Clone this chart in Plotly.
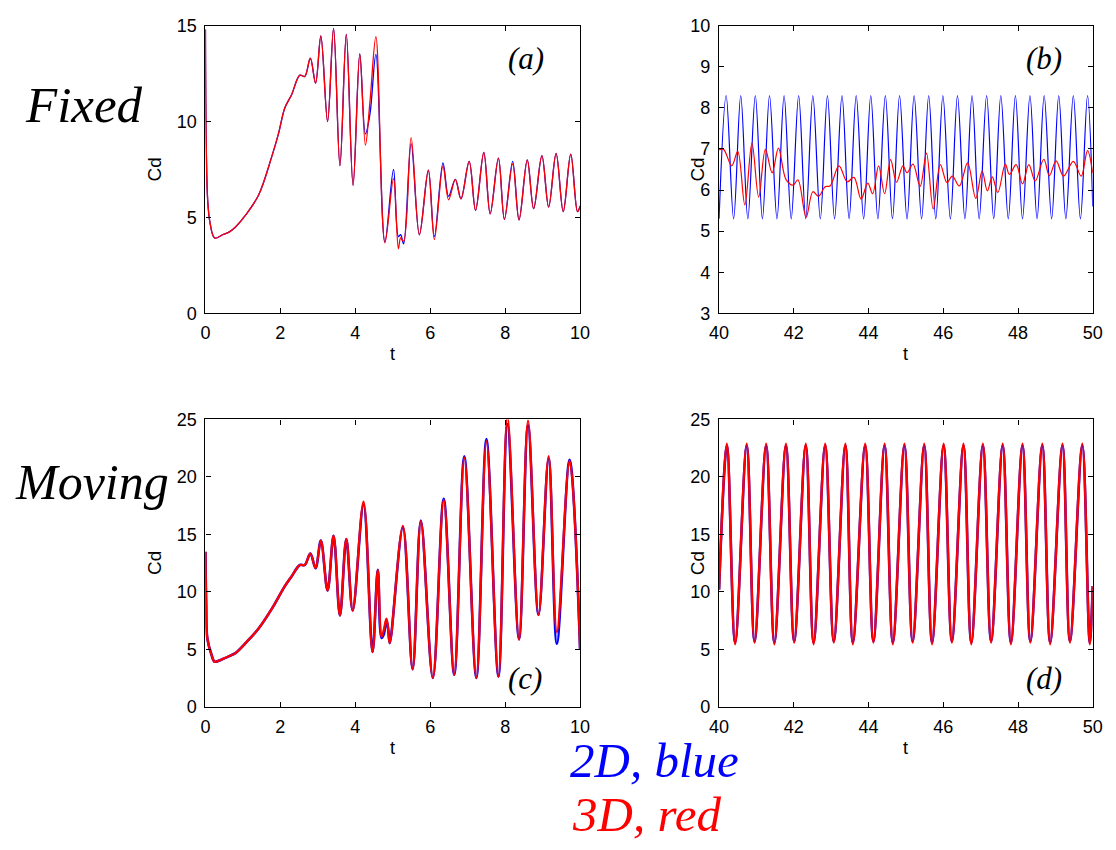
import plotly.graph_objects as go

W, H = 1116, 850

# ---------------- data ----------------
# (a) Fixed, t in [0,10]
t_a = [0, 0.02, 0.06, 0.12, 0.245, 0.46, 0.64, 0.81, 1.07, 1.42, 1.77, 1.95, 2.12, 2.30,
       2.52, 2.65, 2.80, 2.94, 3.08, 3.26, 3.42, 3.59, 3.76, 3.94, 4.12, 4.27, 4.39, 4.55,
       4.79, 5.02, 5.15, 5.21, 5.29, 5.49, 5.71, 5.95, 6.11, 6.34, 6.49, 6.67, 6.82, 7.04,
       7.21, 7.43, 7.60, 7.82, 7.98, 8.20, 8.37, 8.59, 8.76, 8.98, 9.16, 9.36, 9.55, 9.75,
       9.93, 10.0]
cd_a_3d = [14.8, 9.0, 5.9, 4.75, 3.93, 4.1, 4.25, 4.52, 5.12, 6.17, 8.17, 9.37, 10.72, 11.4,
           12.42, 12.35, 13.3, 12.0, 14.46, 10.0, 14.85, 7.7, 14.54, 6.68, 13.52, 8.77, 11.0, 14.42,
           3.68, 7.02, 3.37, 3.93, 3.76, 9.16, 4.1, 7.46, 3.85, 7.67, 5.92, 6.99, 5.97, 7.92,
           5.37, 8.39, 5.19, 8.09, 4.9, 7.8, 4.87, 8.0, 5.46, 8.22, 5.54, 8.34, 5.3, 8.3,
           5.3, 5.6]
cd_a_2d = [14.8, 9.0, 5.9, 4.75, 3.93, 4.1, 4.25, 4.52, 5.12, 6.17, 8.17, 9.37, 10.72, 11.4,
           12.42, 12.35, 13.3, 12.0, 14.46, 10.0, 14.85, 7.7, 14.54, 6.68, 13.52, 9.36, 10.38, 13.5,
           3.73, 7.5, 4.0, 4.1, 3.62, 8.85, 4.1, 7.46, 4.0, 7.84, 6.1, 6.99, 5.97, 7.92,
           5.37, 8.39, 5.19, 8.09, 4.9, 7.92, 4.87, 8.0, 5.46, 8.22, 5.54, 8.34, 5.3, 8.3,
           5.3, 5.6]

# (b) Fixed, t in [40,50]
t_b_2d = [40.00, 40.19, 40.39, 40.58, 40.77, 40.97, 41.16, 41.35, 41.55, 41.74, 41.93, 42.13,
          42.32, 42.51, 42.71, 42.90, 43.09, 43.29, 43.48, 43.67, 43.87, 44.06, 44.25, 44.45,
          44.64, 44.83, 45.03, 45.22, 45.42, 45.61, 45.80, 45.99, 46.19, 46.38, 46.58, 46.77,
          46.96, 47.16, 47.35, 47.54, 47.74, 47.93, 48.12, 48.32, 48.51, 48.70, 48.90, 49.09,
          49.28, 49.48, 49.67, 49.86, 50.00]
cd_b_2d = [5.3, 8.3, 5.3, 8.3, 5.3, 8.3, 5.3, 8.3, 5.3, 8.3, 5.3, 8.3,
           5.3, 8.3, 5.3, 8.3, 5.3, 8.3, 5.3, 8.3, 5.3, 8.3, 5.3, 8.3,
           5.3, 8.3, 5.3, 8.3, 5.3, 8.3, 5.3, 8.3, 5.3, 8.3, 5.3, 8.3,
           5.3, 8.3, 5.3, 8.3, 5.3, 8.3, 5.3, 8.3, 5.3, 8.3, 5.3, 8.3,
           5.3, 8.3, 5.3, 8.3, 5.6]
t_b_3d = [40.00, 40.12, 40.34, 40.50, 40.69, 40.88, 41.06, 41.24, 41.42, 41.59, 41.79, 41.98,
          42.11, 42.33, 42.51, 42.66, 42.84, 42.97, 43.21, 43.43, 43.61, 43.80, 43.98, 44.11,
          44.27, 44.43, 44.59, 44.75, 44.92, 45.03, 45.19, 45.38, 45.55, 45.73, 45.92, 46.10,
          46.24, 46.43, 46.65, 46.87, 47.04, 47.18, 47.31, 47.46, 47.66, 47.77, 47.95, 48.12,
          48.29, 48.46, 48.69, 48.84, 49.02, 49.22, 49.48, 49.69, 49.86, 50.00]
cd_b_3d = [6.98, 6.99, 6.59, 6.94, 5.64, 7.14, 5.83, 6.99, 6.42, 7.02, 6.26, 6.12,
           6.25, 5.34, 5.96, 5.85, 6.08, 6.10, 6.59, 6.20, 6.31, 5.78, 6.17, 5.91,
           6.59, 5.91, 6.74, 6.19, 6.59, 6.42, 6.63, 6.09, 6.90, 5.54, 6.62, 6.18,
           6.34, 6.10, 6.66, 5.80, 6.46, 5.98, 6.32, 5.94, 6.63, 6.38, 6.62, 6.15,
           6.62, 6.22, 6.75, 6.35, 6.71, 6.34, 6.70, 6.34, 6.96, 6.42]

# (c) Moving, t in [0,10]
t_c = [0, 0.02, 0.05, 0.16, 0.245, 0.45, 0.64, 0.81, 1.07, 1.42, 1.77, 2.12, 2.30, 2.52,
       2.65, 2.80, 2.94, 3.08, 3.26, 3.42, 3.59, 3.76, 3.93, 4.22, 4.46, 4.60, 4.70, 4.76,
       4.83, 4.87, 4.92, 5.27, 5.53, 5.75, 6.07, 6.36, 6.64, 6.91, 7.23, 7.50, 7.82, 8.06,
       8.37, 8.61, 8.89, 9.16, 9.38, 9.72, 10.0]
cd_c_3d = [13.5, 9.0, 5.97, 4.56, 3.93, 4.15, 4.42, 4.7, 5.55, 6.82, 8.52, 10.5, 11.35, 12.34,
           12.34, 13.33, 12.06, 14.46, 10.13, 14.89, 7.95, 14.6, 8.38, 17.86, 4.78, 11.92, 6.11, 6.68,
           7.67, 6.96, 5.55, 15.74, 3.28, 16.16, 2.52, 18.0, 2.8, 21.68, 2.52, 23.1, 2.63, 25.3,
           5.83, 24.9, 8.0, 21.8, 6.5, 21.4, 5.0]
cd_c_2d = [13.5, 9.0, 5.97, 4.56, 3.93, 4.15, 4.42, 4.7, 5.55, 6.82, 8.52, 10.5, 11.35, 12.34,
           12.34, 13.33, 12.06, 14.46, 10.13, 14.89, 7.95, 14.6, 8.38, 17.6, 4.78, 11.92, 6.0, 6.3,
           7.5, 6.96, 5.55, 15.6, 3.28, 16.2, 2.52, 18.1, 2.8, 21.8, 2.52, 23.3, 2.63, 24.6,
           5.9, 24.5, 8.0, 21.6, 5.5, 21.5, 5.0]

# (d) Moving, t in [40,50]
t_d = [40.00, 40.21, 40.43, 40.74, 40.95, 41.26, 41.48, 41.79, 42.01, 42.32, 42.53, 42.84,
       43.07, 43.38, 43.58, 43.91, 44.13, 44.43, 44.65, 44.96, 45.18, 45.49, 45.70, 46.01,
       46.23, 46.54, 46.75, 47.06, 47.28, 47.59, 47.81, 48.12, 48.33, 48.65, 48.86, 49.19,
       49.39, 49.72, 49.92, 50.00]
cd_d_3d = [10.2, 22.9, 5.45, 22.9, 5.6, 22.9, 5.45, 22.9, 5.6, 22.9, 5.45, 22.9,
           5.6, 22.9, 5.45, 22.9, 5.6, 22.9, 5.45, 22.9, 5.6, 22.9, 5.45, 22.9,
           5.6, 22.9, 5.45, 22.9, 5.6, 22.9, 5.45, 22.9, 5.6, 22.9, 5.45, 22.9,
           5.6, 22.9, 5.45, 10.5]
cd_d_2d = [10.2, 22.7, 5.6, 22.7, 5.7, 22.7, 5.6, 22.7, 5.7, 22.7, 5.6, 22.7,
           5.7, 22.7, 5.6, 22.7, 5.7, 22.7, 5.6, 22.7, 5.7, 22.7, 5.6, 22.7,
           5.7, 22.7, 5.6, 22.7, 5.7, 22.7, 5.6, 22.7, 5.7, 22.7, 5.6, 22.7,
           5.7, 22.7, 5.6, 10.5]

x_ticks_early = [0, 2, 4, 6, 8, 10]
x_ticks_late = [40, 42, 44, 46, 48, 50]
y_ticks_a = [0, 5, 10, 15]
y_ticks_b = [3, 4, 5, 6, 7, 8, 9, 10]
y_ticks_cd = [0, 5, 10, 15, 20, 25]

BLUE = "#0000ff"
RED = "#ff0000"

# ---------------- layout helpers ----------------
def fx(px):
    return px / W

def fy(py):
    return 1 - py / H

xdom_left = [fx(199), fx(580.5)]
xdom_right = [fx(722), fx(1102.5)]
ydom_top = [fy(310.7), fy(16)]
ydom_bot = [fy(713.7), fy(419.3)]

fig = go.Figure()

def add_pair(t2, y2, t3, y3, xa, ya, w2, w3):
    fig.add_trace(go.Scatter(x=t2, y=y2, mode="lines", xaxis=xa, yaxis=ya,
                             line=dict(color=BLUE, width=w2, shape="spline", smoothing=1.0),
                             showlegend=False, hoverinfo="skip"))
    fig.add_trace(go.Scatter(x=t3, y=y3, mode="lines", xaxis=xa, yaxis=ya,
                             line=dict(color=RED, width=w3, shape="spline", smoothing=1.0),
                             showlegend=False, hoverinfo="skip"))

add_pair(t_a, cd_a_2d, t_a, cd_a_3d, "x", "y", 1.3, 1.3)
add_pair(t_b_2d, cd_b_2d, t_b_3d, cd_b_3d, "x2", "y2", 1.2, 1.2)
add_pair(t_c, cd_c_2d, t_c, cd_c_3d, "x3", "y3", 2.6, 2.3)
add_pair(t_d, cd_d_2d, t_d, cd_d_3d, "x4", "y4", 2.6, 2.4)

tickfont = dict(family="Liberation Sans, Arial, sans-serif", size=18, color="black")
common = dict(showline=True, linecolor="black", linewidth=1.2, mirror="ticks",
              ticks="inside", ticklen=5, tickwidth=1, tickcolor="black",
              showgrid=False, zeroline=False, tickfont=tickfont, fixedrange=True)

fig.update_layout(
    width=W, height=H,
    margin=dict(l=0, r=0, t=0, b=0),
    paper_bgcolor="white", plot_bgcolor="white",
    xaxis=dict(domain=xdom_left, anchor="y", range=[0, 10], tickvals=x_ticks_early,
               ticklabelstandoff=3, **common),
    yaxis=dict(domain=ydom_top, anchor="x", range=[0, 15], tickvals=y_ticks_a,
               ticklabelstandoff=4, **common),
    xaxis2=dict(domain=xdom_right, anchor="y2", range=[40, 50], tickvals=x_ticks_late,
                ticklabelstandoff=3, **common),
    yaxis2=dict(domain=ydom_top, anchor="x2", range=[3, 10], tickvals=y_ticks_b,
                ticklabelstandoff=4, **common),
    xaxis3=dict(domain=xdom_left, anchor="y3", range=[0, 10], tickvals=x_ticks_early,
                ticklabelstandoff=3, **common),
    yaxis3=dict(domain=ydom_bot, anchor="x3", range=[0, 25], tickvals=y_ticks_cd,
                ticklabelstandoff=4, **common),
    xaxis4=dict(domain=xdom_right, anchor="y4", range=[40, 50], tickvals=x_ticks_late,
                ticklabelstandoff=3, **common),
    yaxis4=dict(domain=ydom_bot, anchor="x4", range=[0, 25], tickvals=y_ticks_cd,
                ticklabelstandoff=4, **common),
)

SANS = "Liberation Sans, Arial, sans-serif"
SERIF = "Liberation Serif, Times New Roman, serif"

def ann(text, x, y, size, family, color="black", angle=0, italic=False):
    fig.add_annotation(text=text, x=fx(x), y=fy(y), xref="paper", yref="paper",
                       xanchor="center", yanchor="middle", showarrow=False,
                       textangle=angle,
                       font=dict(family=family, size=size, color=color,
                                 style="italic" if italic else "normal"))

# axis titles
for cx, cy in [(147, 163), (700, 163), (147, 566), (700, 566)]:
    ann("Cd", cx, cy, 19, SANS, angle=-90)
for cx, cy in [(389.5, 352), (912, 352), (389.5, 756), (912, 756)]:
    ann("t", cx, cy, 18, SANS)

# panel letters
ann("(a)", 525, 50, 31, SERIF, italic=True)
ann("(b)", 1053, 50, 31, SERIF, italic=True)
ann("(c)", 524, 685, 31, SERIF, italic=True)
ann("(d)", 1053, 685, 31, SERIF, italic=True)

# row labels
ann("Fixed", 75, 97, 51, SERIF, italic=True)
ann("Moving", 83, 483, 50, SERIF, italic=True)

# legend text
ann("2D, blue", 656, 769, 49, SERIF, color=BLUE, italic=True)
ann("3D, red", 648, 824, 49, SERIF, color=RED, italic=True)

fig.write_html(
    "out.html",
    post_script="document.body.style.margin='0';document.body.style.padding='0';"
                "document.body.style.overflow='hidden';",
)
